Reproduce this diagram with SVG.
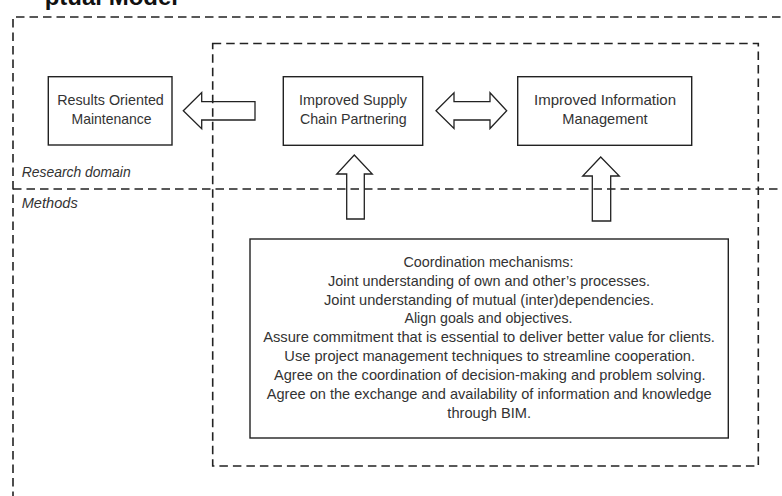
<svg xmlns="http://www.w3.org/2000/svg" width="782" height="496" viewBox="0 0 782 496">
<style>
.dash{fill:none;stroke:#222;stroke-width:1.6;stroke-dasharray:8.5 5}
.box{fill:#fff;stroke:#222;stroke-width:1.4}
.arrow{fill:none;stroke:#222;stroke-width:1.3;stroke-linejoin:miter}
.t{font-family:"Liberation Sans",Arial,sans-serif;font-size:15px;fill:#333;text-anchor:middle}
.lbl{font-family:"Liberation Sans",Arial,sans-serif;font-size:14px;font-style:italic;fill:#333}
.title{font-family:"Liberation Sans",Arial,sans-serif;font-size:24px;font-weight:bold;fill:#111;text-anchor:end}
</style>
<rect width="782" height="496" fill="#fff"/>
<text class="title" x="178" y="5">ptual Model</text>
<g id="domains">
<path class="dash" d="M13,500 L13,17 L790,17"/>
<path class="dash" d="M13,189 L790,189"/>
<rect class="dash" x="212.7" y="43.5" width="545.6" height="422.5"/>
<text class="lbl" x="21.7" y="177" textLength="109" lengthAdjust="spacingAndGlyphs">Research domain</text>
<text class="lbl" x="21.7" y="208" textLength="56" lengthAdjust="spacingAndGlyphs">Methods</text>
</g>
<g id="connectors">
<path class="arrow" d="M183.3,110.7 L201.7,92.5 L201.7,101.7 L255,101.7 L255,120 L201.7,120 L201.7,128.7 Z"/>
<path class="arrow" d="M436,110.7 L454,92.7 L454,101.7 L490,101.7 L490,92.7 L506.7,110.7 L490,128.5 L490,120 L454,120 L454,128.5 Z"/>
<path class="arrow" d="M354.3,155 L372.3,174 L364.3,174 L364.3,219 L346.7,219 L346.7,174 L336.7,174 Z"/>
<path class="arrow" d="M600.7,157 L619.3,176 L610.7,176 L610.7,221 L592.3,221 L592.3,176 L582.7,176 Z"/>
</g>
<g id="results">
<rect class="box" x="48.3" y="76.7" width="123.7" height="68.3"/>
<text class="t" x="110.5" y="105" textLength="106.7" lengthAdjust="spacingAndGlyphs">Results Oriented</text>
<text class="t" x="111.5" y="124" textLength="80" lengthAdjust="spacingAndGlyphs">Maintenance</text>
</g>
<g id="supply">
<rect class="box" x="283.3" y="76.7" width="139.4" height="68.6"/>
<text class="t" x="353" y="105" textLength="108" lengthAdjust="spacingAndGlyphs">Improved Supply</text>
<text class="t" x="353.3" y="124" textLength="106.7" lengthAdjust="spacingAndGlyphs">Chain Partnering</text>
</g>
<g id="information">
<rect class="box" x="517.7" y="76.7" width="174" height="68.6"/>
<text class="t" x="605" y="105" textLength="142" lengthAdjust="spacingAndGlyphs">Improved Information</text>
<text class="t" x="605" y="124" textLength="85.3" lengthAdjust="spacingAndGlyphs">Management</text>
</g>
<g id="coordination">
<rect class="box" x="250" y="239" width="478.3" height="199"/>
<text class="t" x="488.5" y="266.7" textLength="170" lengthAdjust="spacingAndGlyphs">Coordination mechanisms:</text>
<text class="t" x="489" y="285.6" textLength="322" lengthAdjust="spacingAndGlyphs">Joint understanding of own and other’s processes.</text>
<text class="t" x="489" y="304.5" textLength="330" lengthAdjust="spacingAndGlyphs">Joint understanding of mutual (inter)dependencies.</text>
<text class="t" x="488.5" y="323.4" textLength="168" lengthAdjust="spacingAndGlyphs">Align goals and objectives.</text>
<text class="t" x="489" y="342.3" textLength="451.7" lengthAdjust="spacingAndGlyphs">Assure commitment that is essential to deliver better value for clients.</text>
<text class="t" x="489.7" y="361.2" textLength="410.7" lengthAdjust="spacingAndGlyphs">Use project management techniques to streamline cooperation.</text>
<text class="t" x="489.8" y="380.1" textLength="431.7" lengthAdjust="spacingAndGlyphs">Agree on the coordination of decision-making and problem solving.</text>
<text class="t" x="489.2" y="399" textLength="445" lengthAdjust="spacingAndGlyphs">Agree on the exchange and availability of information and knowledge</text>
<text class="t" x="489.2" y="417.9" textLength="83.7" lengthAdjust="spacingAndGlyphs">through BIM.</text>
</g>
</svg>
